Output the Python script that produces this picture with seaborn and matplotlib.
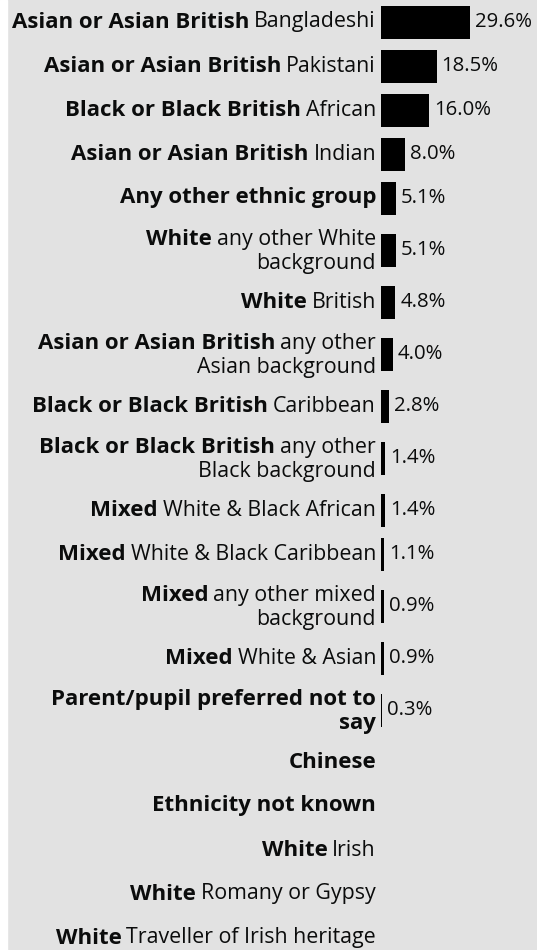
import matplotlib
matplotlib.use("Agg")
import matplotlib.pyplot as plt
import numpy as np
import pandas as pd
import seaborn as sns

# ethnic group labels: bold heading + regular detail ("\n" marks the wrap)
group_bold = [
    "Asian or Asian British", "Asian or Asian British", "Black or Black British",
    "Asian or Asian British", "Any other ethnic group", "White", "White",
    "Asian or Asian British", "Black or Black British", "Black or Black British",
    "Mixed", "Mixed", "Mixed", "Mixed", "Parent/pupil preferred not to\nsay",
    "Chinese", "Ethnicity not known", "White", "White", "White",
]
group_detail = [
    "Bangladeshi", "Pakistani", "African", "Indian", "",
    "any other White\nbackground", "British", "any other\nAsian background",
    "Caribbean", "any other\nBlack background", "White & Black African",
    "White & Black Caribbean", "any other mixed\nbackground", "White & Asian", "",
    "", "", "Irish", "Romany or Gypsy", "Traveller of Irish heritage",
]
percent = [29.6, 18.5, 16.0, 8.0, 5.1, 5.1, 4.8, 4.0, 2.8, 1.4,
           1.4, 1.1, 0.9, 0.9, 0.3, np.nan, np.nan, np.nan, np.nan, np.nan]

BG = "#e2e2e2"
INK = "#0b0c0c"
FS = 15.4
FS_BOLD = 16.0
FS_VAL = 14.7

sns.set_theme(style="white")
plt.rcParams["font.family"] = ["Open Sans", "DejaVu Sans"]


def label_lines(bold, detail):
    lines = [[part, ""] for part in bold.split("\n")]
    extra = detail.split("\n") if detail else [""]
    lines[-1][1] = extra[0]
    lines += [["", d] for d in extra[1:]]
    return lines


# row layout (in pixels): taller rows where the label wraps
lines = [label_lines(b, d) for b, d in zip(group_bold, group_detail)]
heights = np.array([28 + 16 * len(ls) for ls in lines])
centers = np.cumsum(heights) - heights / 2

df = pd.DataFrame({"percent": percent, "row": centers}).dropna()

fig = plt.figure(figsize=(5.37, 9.5), dpi=100, facecolor=BG)
fig.patches.append(plt.Rectangle((0, 0), 7 / 537, 1, transform=fig.transFigure,
                                 color="white", zorder=0))
ax = fig.add_axes([381 / 537, 0, 156 / 537, 1])
ax.set_facecolor("none")

sns.barplot(data=df, x="percent", y="row", orient="h", native_scale=True,
            color="black", width=0.75, linewidth=0, errorbar=None, saturation=1, ax=ax)
ax.bar_label(ax.containers[0], fmt="%.1f%%", padding=3.5, fontsize=FS_VAL, color=INK)

ax.set_xlim(0, 52)
ax.set_ylim(950, 0)
ax.axis("off")

for c, ls in zip(centers, lines):
    n = len(ls)
    for i, (bold, detail) in enumerate(ls):
        y = c + (i - (n - 1) / 2) * 24 + (1.5 if n > 1 else 0)
        anchor = None
        if detail:
            anchor = ax.annotate(detail, xy=(0, y), xytext=(-5, 0), textcoords="offset pixels",
                                 ha="right", va="center", fontsize=FS, color=INK,
                                 annotation_clip=False)
        if bold:
            if anchor is None:
                ax.annotate(bold, xy=(0, y), xytext=(-5, 0), textcoords="offset pixels",
                            ha="right", va="center", fontsize=FS_BOLD, color=INK,
                            fontweight="bold", annotation_clip=False)
            else:
                ax.annotate(bold, xy=(0, 0.5), xycoords=anchor, xytext=(-5, 0),
                            textcoords="offset pixels", ha="right", va="center",
                            fontsize=FS_BOLD, color=INK, fontweight="bold",
                            annotation_clip=False)

fig.savefig("out.png", dpi=100, facecolor=BG)
